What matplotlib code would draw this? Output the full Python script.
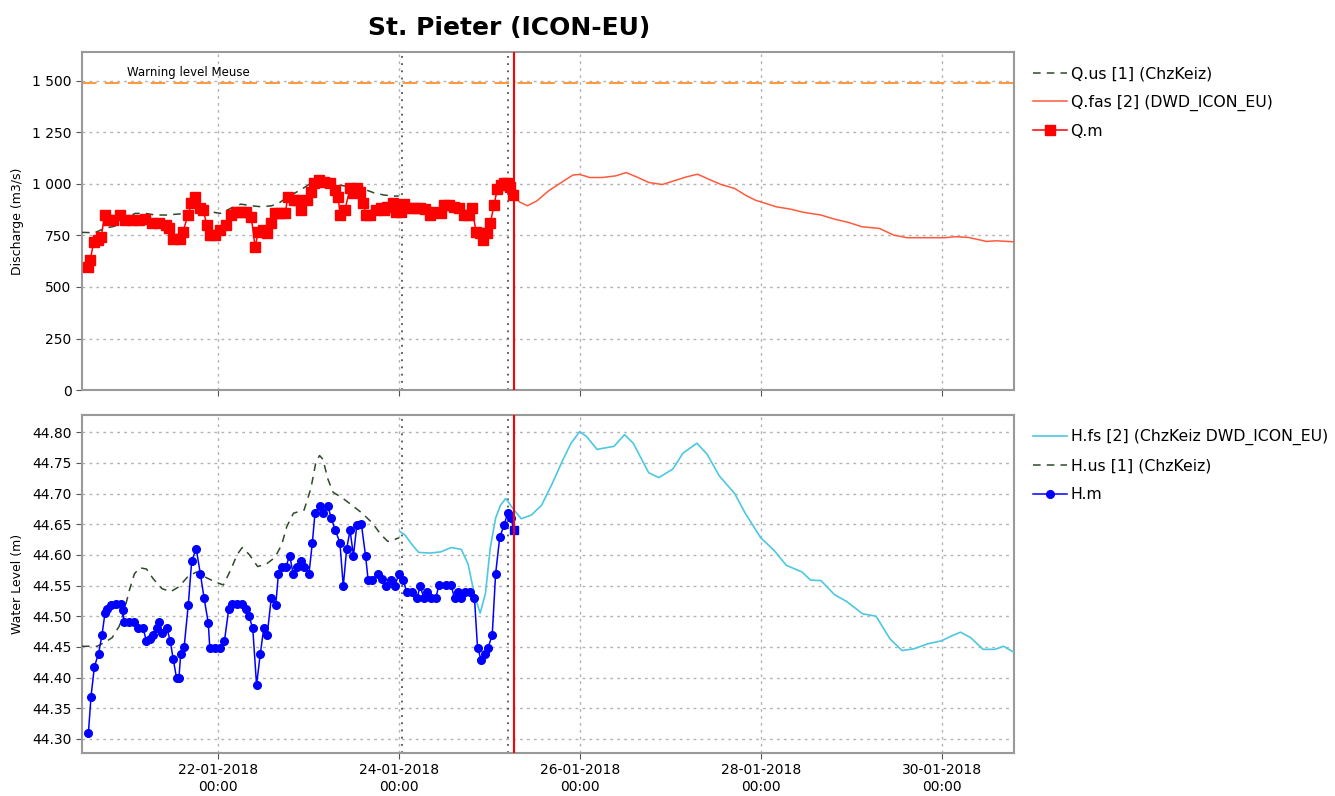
import numpy as np
import pandas as pd
import matplotlib
matplotlib.use("Agg")
import matplotlib.pyplot as plt
import matplotlib.dates as mdates
from matplotlib.ticker import FuncFormatter, MultipleLocator

# time is in hours relative to 22-01-2018 00:00
base = pd.Timestamp("2018-01-22 00:00")

# ---- discharge panel ----
qm_h = [-34.5, -33.8, -32.9, -31.8, -30.9, -30.0, -29.1, -27.8, -26.0, -24.6, -22.8, -21.0,
        -19.2, -17.4, -15.6, -13.7, -12.8, -11.9, -10.1, -9.2, -7.9, -7.0, -6.1, -4.7, -3.8,
        -2.9, -2.0, -0.6, 0.7, 2.1, 3.4, 4.8, 6.1, 7.5, 8.9, 9.9, 10.8, 12.0, 13.2, 14.1, 15.2,
        16.5, 17.9, 18.6, 20.2, 21.1, 22.2, 23.8, 24.7, 25.6, 26.9, 28.3, 29.7, 31.0, 31.9,
        32.5, 33.7, 35.1, 36.0, 36.9, 37.8, 38.5, 39.4, 40.5, 41.9, 43.2, 44.1, 45.0, 46.4,
        47.3, 48.6, 49.5, 50.9, 52.3, 53.6, 55.0, 56.4, 57.7, 59.1, 60.0, 61.3, 62.7, 64.0,
        65.4, 66.7, 67.5, 68.5, 69.6, 70.3, 71.4, 72.3, 73.3, 74.1, 75.0, 75.9, 76.8, 77.6, 78.2]
qm_v = [598, 630, 719, 727, 743, 849, 824, 824, 849, 824, 824, 824,
        832, 808, 808, 800, 784, 735, 735, 768, 849, 905, 937, 881, 873,
        800, 752, 752, 776, 800, 849, 865, 865, 865, 841, 695, 768, 776, 760, 808, 857,
        857, 857, 937, 921, 921, 873, 921, 962, 1002, 1018, 1010, 1002, 970, 937,
        849, 873, 978, 954, 978, 962, 905, 849, 849, 873, 881, 873, 889, 908,
        865, 865, 902, 881, 881, 881, 876, 849, 865, 857, 897, 897, 889, 881,
        849, 849, 881, 768, 760, 727, 763, 811, 897, 973, 994, 1002, 1002, 986, 946]

qus_h = [-36.0, -32.7, -30.0, -27.3, -24.6, -21.9, -19.2, -16.5, -13.7, -11.0, -7.9, -5.2,
         -2.0, 0.7, 3.4, 6.1, 8.9, 11.6, 14.3, 16.1, 17.9, 20.6, 23.3, 25.1, 26.9, 28.8,
         31.0, 33.3, 36.0, 38.7, 41.4, 44.1, 46.8, 48.0]
qus_v = [765, 763, 784, 795, 832, 857, 857, 849, 849, 853, 857, 873,
         865, 857, 881, 902, 894, 889, 894, 905, 929, 957, 986, 1010, 1026, 1018,
         999, 991, 986, 975, 957, 946, 941, 941]

qfas_h = [78.6, 80.0, 82.1, 84.6, 87.8, 91.4, 94.2, 96.0, 98.7, 101.9, 105.6, 108.3, 111.1,
          114.3, 117.9, 120.7, 124.3, 127.3, 130.3, 133.5, 137.1, 139.9, 142.6, 145.4, 148.1,
          151.8, 155.4, 160.0, 163.6, 167.3, 170.9, 175.5, 179.2, 182.8, 188.3, 192.9, 195.6,
          199.2, 203.9, 206.6, 211.2]
qfas_v = [946, 913, 894, 917, 967, 1010, 1043, 1046, 1031, 1031, 1039, 1055, 1034,
          1007, 997, 1013, 1034, 1047, 1022, 997, 978, 946, 921, 905, 889,
          878, 862, 849, 829, 813, 792, 784, 752, 739, 739, 739, 744,
          740, 721, 724, 719]

warning_level = 1490

# ---- water level panel ----
hm_h = [-34.3, -33.6, -32.7, -31.6, -30.7, -29.9, -29.3, -28.4, -27.0, -25.7, -25.2, -24.8,
        -23.4, -22.1, -21.1, -19.8, -18.9, -18.0, -17.1, -16.2, -15.5, -14.9, -13.5, -12.6,
        -11.8, -10.9, -10.3, -9.8, -8.9, -7.8, -6.9, -5.7, -4.6, -3.6, -2.5, -2.1, -0.7, 0.6,
        1.8, 2.9, 3.8, 5.2, 6.5, 7.6, 8.3, 9.3, 10.3, 11.3, 12.2, 13.1, 14.2, 15.4, 16.1, 17.0,
        18.1, 19.1, 20.0, 20.9, 22.0, 23.0, 24.2, 25.1, 25.8, 27.0, 27.9, 29.2, 30.1, 31.2,
        32.4, 33.3, 34.2, 35.1, 36.0, 36.9, 38.1, 39.2, 39.9, 41.0, 42.4, 43.6, 44.6, 46.0,
        46.9, 48.1, 49.2, 50.1, 51.5, 52.8, 53.7, 54.7, 55.5, 56.6, 57.8, 58.7, 60.5, 61.9,
        62.8, 63.7, 64.6, 65.7, 66.9, 68.1, 68.9, 69.9, 70.8, 71.7, 72.8, 73.7, 74.8, 76.0,
        76.9, 77.8]
hm_v = [44.309, 44.369, 44.418, 44.439, 44.469, 44.505, 44.511, 44.519, 44.52, 44.52, 44.51, 44.49,
        44.49, 44.49, 44.48, 44.48, 44.46, 44.463, 44.47, 44.48, 44.49, 44.472, 44.481, 44.46,
        44.43, 44.399, 44.399, 44.439, 44.45, 44.519, 44.59, 44.61, 44.569, 44.529, 44.489,
        44.448, 44.448, 44.448, 44.46, 44.511, 44.52, 44.52, 44.52, 44.511, 44.50, 44.48,
        44.388, 44.439, 44.48, 44.469, 44.529, 44.519, 44.569, 44.581, 44.581, 44.599, 44.569,
        44.58, 44.59, 44.58, 44.569, 44.62, 44.668, 44.68, 44.668, 44.68, 44.66, 44.64, 44.62,
        44.549, 44.61, 44.64, 44.599, 44.649, 44.65, 44.599, 44.559, 44.559, 44.569, 44.56,
        44.549, 44.559, 44.549, 44.569, 44.559, 44.54, 44.54, 44.529, 44.549, 44.529, 44.54,
        44.529, 44.529, 44.551, 44.551, 44.551, 44.529, 44.54, 44.529, 44.54, 44.54, 44.529,
        44.449, 44.428, 44.439, 44.449, 44.469, 44.569, 44.629, 44.649, 44.669, 44.66]
# last measured level, drawn as a square
hm_last_h = 78.5
hm_last_v = 44.64

hus_h = [-36.0, -32.0, -29.8, -28.0, -26.1, -24.5, -23.4, -22.1, -20.7, -18.9, -17.1, -14.8,
         -12.5, -10.3, -8.0, -5.7, -3.4, -0.7, 1.5, 3.4, 5.2, 6.5, 8.3, 10.6, 12.9, 15.2, 17.0,
         18.3, 20.1, 22.9, 24.7, 26.0, 27.0, 27.9, 29.2, 30.6, 32.8, 35.6, 38.3, 41.0, 43.3,
         45.1, 46.9, 48.1]
hus_v = [44.451, 44.451, 44.458, 44.465, 44.484, 44.516, 44.543, 44.569, 44.579, 44.577,
         44.561, 44.545, 44.54, 44.548, 44.564, 44.572, 44.564, 44.556, 44.551, 44.575, 44.601,
         44.612, 44.601, 44.581, 44.585, 44.596, 44.617, 44.646, 44.668, 44.673, 44.708, 44.75,
         44.762, 44.756, 44.724, 44.702, 44.694, 44.681, 44.668, 44.652, 44.633, 44.622,
         44.625, 44.628]

hfs_h = [48.3, 49.6, 51.5, 53.3, 56.4, 59.2, 61.9, 64.6, 66.4, 68.2, 69.6, 71.0, 72.3, 73.7,
         75.0, 76.4, 78.6, 80.5, 83.2, 85.9, 88.7, 91.4, 93.7, 96.0, 97.8, 100.6, 105.1, 107.9,
         110.2, 114.3, 117.0, 120.7, 123.4, 127.1, 129.8, 133.0, 137.1, 139.9, 144.0, 147.6,
         150.8, 155.0, 157.2, 160.0, 163.6, 166.8, 171.0, 174.6, 178.3, 181.5, 184.7, 188.3,
         192.0, 194.7, 197.0, 199.7, 203.0, 206.1, 208.4, 211.2]
hfs_v = [44.638, 44.633, 44.617, 44.604, 44.603, 44.605, 44.612, 44.609, 44.585, 44.532,
         44.505, 44.537, 44.612, 44.66, 44.681, 44.692, 44.673, 44.659, 44.665, 44.681, 44.716,
         44.753, 44.782, 44.801, 44.793, 44.772, 44.777, 44.796, 44.782, 44.734, 44.726, 44.740,
         44.766, 44.782, 44.764, 44.729, 44.700, 44.668, 44.628, 44.607, 44.583, 44.572,
         44.559, 44.558, 44.535, 44.524, 44.504, 44.500, 44.463, 44.444, 44.447, 44.455,
         44.460, 44.468, 44.474, 44.465, 44.446, 44.446, 44.451, 44.441]

# reference times (hours)
t_start, t_end = -36.0, 211.2
t_fs_start = 49.0   # dotted line 24-01
t_obs = 77.0        # dotted line 25-01
t_now = 78.7        # red line


def to_dt(h):
    return base + pd.to_timedelta(np.asarray(h, dtype=float), unit="h")


plt.rcParams['font.family'] = ['DejaVu Sans']
plt.rcParams['font.size'] = 10

fig = plt.figure(figsize=(13.35, 7.96), dpi=100)
ax1 = fig.add_axes([0.0614, 0.510, 0.6982, 0.4247])
ax2 = fig.add_axes([0.0614, 0.054, 0.6982, 0.4246], sharex=ax1)

grid_kw = dict(color="#b4b4b4", linestyle=(0, (2, 3)), linewidth=1.0)

# top panel
ax1.axhline(warning_level, color="#ff9a40", linestyle=(0, (7, 4)), linewidth=1.5, zorder=2)
ax1.text(to_dt([-24.0])[0], warning_level + 20, "Warning level Meuse", fontsize=8.5, va="bottom", ha="left")
ax1.plot(to_dt(qus_h), qus_v, color="#2e4a2a", linestyle=(0, (5, 4)), linewidth=1.1,
         label="Q.us [1] (ChzKeiz)", zorder=3)
ax1.plot(to_dt(qfas_h), qfas_v, color="#ff5a3c", linewidth=1.1,
         label="Q.fas [2] (DWD_ICON_EU)", zorder=3)
ax1.plot(to_dt(qm_h), qm_v, color="#ff0000", linewidth=1.1, marker="s", markersize=6.5,
         label="Q.m", zorder=4)
ax1.set_ylim(0, 1640)
ax1.yaxis.set_major_locator(MultipleLocator(250))
ax1.yaxis.set_major_formatter(FuncFormatter(lambda v, p: f"{int(v):,}".replace(",", " ")))
ax1.set_ylabel("Discharge (m3/s)", fontsize=9)

# bottom panel
ax2.plot(to_dt(hfs_h), hfs_v, color="#4cc8e0", linewidth=1.2,
         label="H.fs [2] (ChzKeiz DWD_ICON_EU)", zorder=3)
ax2.plot(to_dt(hus_h), hus_v, color="#2e4a2a", linestyle=(0, (5, 4)), linewidth=1.1,
         label="H.us [1] (ChzKeiz)", zorder=3)
ax2.plot(to_dt(list(hm_h) + [hm_last_h]), list(hm_v) + [hm_last_v], color="#0000ff",
         linewidth=1.1, zorder=4)
ax2.plot(to_dt(hm_h), hm_v, color="#0000ff", linewidth=0, marker="o", markersize=5.5, zorder=4)
ax2.plot(to_dt([hm_last_h]), [hm_last_v], color="#0000ff", linewidth=0, marker="s",
         markersize=5.5, zorder=4)
ax2.plot([], [], color="#0000ff", linewidth=1.1, marker="o", markersize=5.5, label="H.m")
ax2.set_ylim(44.277, 44.828)
ax2.yaxis.set_major_locator(MultipleLocator(0.05))
ax2.yaxis.set_major_formatter(FuncFormatter(lambda v, p: f"{v:.2f}"))
ax2.set_ylabel("Water Level (m)", fontsize=9)

for ax in (ax1, ax2):
    ax.grid(True, **grid_kw)
    ax.set_axisbelow(True)
    ax.axvline(to_dt([t_fs_start])[0], color="#505050", linestyle=(0, (1, 3)), linewidth=1.3, zorder=2)
    ax.axvline(to_dt([t_obs])[0], color="#505050", linestyle=(0, (1, 3)), linewidth=1.3, zorder=2)
    ax.axvline(to_dt([t_now])[0], color="#ff0000", linewidth=1.5, zorder=5)
    for s in ax.spines.values():
        s.set_color("#999999")
        s.set_linewidth(1.5)
    ax.tick_params(colors="#555555", labelcolor="black", length=4, labelsize=10)
    ax.yaxis.set_label_coords(-0.062, 0.5)
    ax.legend(loc="upper left", bbox_to_anchor=(1.005, 1.0), frameon=False, fontsize=11.3,
              handlelength=2.2, handletextpad=0.2, labelspacing=0.85, borderaxespad=0.5)

ax1.set_xlim(to_dt([t_start])[0], to_dt([t_end])[0])
ax2.xaxis.set_major_locator(mdates.DayLocator(bymonthday=[22, 24, 26, 28, 30]))
ax2.xaxis.set_major_formatter(mdates.DateFormatter("%d-%m-%Y\n%H:%M"))
plt.setp(ax1.get_xticklabels(), visible=False)
for lab in ax2.get_xticklabels():
    lab.set_horizontalalignment("center")

fig.text(0.381, 0.965, "St. Pieter (ICON-EU)", fontsize=18, fontweight="bold", ha="center", va="center")

fig.savefig("out.png", dpi=100)
